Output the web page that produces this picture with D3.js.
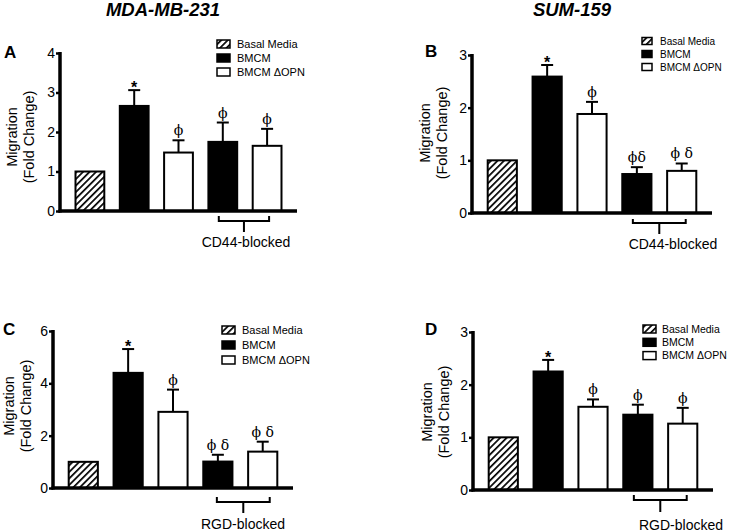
<!DOCTYPE html>
<html><head><meta charset="utf-8">
<script src="https://cdn.jsdelivr.net/npm/d3@7"></script>
<style>
html,body{margin:0;padding:0;background:#fff;}
svg{display:block;}
text{font-family:"Liberation Sans",Arial,sans-serif;fill:#000;}
</style></head>
<body>
<svg id="chart" width="731" height="532"></svg>
<script>
// ---------------- DATA ----------------
const categories = ["Basal Media", "BMCM", "BMCM ΔOPN", "BMCM (blocked)", "BMCM ΔOPN (blocked)"];
const barKinds = ["basal", "bmcm", "dopn", "bmcm", "dopn"];
const legendLabels = ["Basal Media", "BMCM", "BMCM ΔOPN"];
const legendKinds = ["basal", "bmcm", "dopn"];
const cellLines = ["MDA-MB-231", "SUM-159"];
const panelLetters = ["A", "B", "C", "D"];
const blockLabels = ["CD44-blocked", "CD44-blocked", "RGD-blocked", "RGD-blocked"];

const meansA = [1.00, 2.66, 1.48, 1.75, 1.65];
const errA   = [0, 0.40, 0.31, 0.49, 0.43];
const marksA = ["", "*", "ϕ", "ϕ", "ϕ"];
const ticksA = [0, 1, 2, 3, 4];

const meansB = [1.00, 2.59, 1.88, 0.74, 0.80];
const errB   = [0, 0.22, 0.23, 0.13, 0.14];
const marksB = ["", "*", "ϕ", "ϕδ", "ϕ δ"];
const ticksB = [0, 1, 2, 3];

const meansC = [1.00, 4.40, 2.91, 1.01, 1.39];
const errC   = [0, 0.91, 0.85, 0.26, 0.38];
const marksC = ["", "*", "ϕ", "ϕ δ", "ϕ δ"];
const ticksC = [0, 2, 4, 6];

const meansD = [1.00, 2.25, 1.58, 1.43, 1.26];
const errD   = [0, 0.22, 0.14, 0.19, 0.30];
const marksD = ["", "*", "ϕ", "ϕ", "ϕ"];
const ticksD = [0, 1, 2, 3];

const yLabelLines = ["Migration", "(Fold Change)"];

// ---------------- LAYOUT ----------------
const panels = [
  {means: meansA, err: errA, marks: marksA, ticks: ticksA, block: blockLabels[0], letter: panelLetters[0],
   x0: 60, x1: 297, yTop: 53, yBot: 211,
   letterPos: [4, 58], ylab: [12, 137], legend: {x: 217, y: 44, dy: 14, w: 13, h: 8, tx: 237, fs: 11},
   br: {dl: -4, dr: 2, y1: 5, y2: 10, y3: 21, lx: 246, ly: 36}},
  {means: meansB, err: errB, marks: marksB, ticks: ticksB, block: blockLabels[1], letter: panelLetters[1],
   x0: 472, x1: 712, yTop: 55, yBot: 213,
   letterPos: [425, 57], ylab: [425, 133], legend: {x: 642, y: 41, dy: 13, w: 10, h: 7, tx: 660, fs: 10},
   br: {dl: -4, dr: 4, y1: 6, y2: 10, y3: 21, lx: 673, ly: 36}},
  {means: meansC, err: errC, marks: marksC, ticks: ticksC, block: blockLabels[2], letter: panelLetters[2],
   x0: 53, x1: 293, yTop: 331, yBot: 488,
   letterPos: [3, 335], ylab: [9, 406], legend: {x: 222, y: 330, dy: 15, w: 13, h: 8, tx: 242, fs: 11},
   br: {dl: -1, dr: 7, y1: 9, y2: 14, y3: 25, lx: 243, ly: 41}},
  {means: meansD, err: errD, marks: marksD, ticks: ticksD, block: blockLabels[3], letter: panelLetters[3],
   x0: 473, x1: 713, yTop: 332, yBot: 490,
   letterPos: [425, 335], ylab: [427, 412], legend: {x: 643, y: 329, dy: 13.3, w: 13, h: 8, tx: 662, fs: 10.5},
   br: {dl: -4, dr: 4, y1: 5, y2: 10, y3: 22, lx: 681, ly: 40}}
];

const svg = d3.select("#chart");
const defs = svg.append("defs");
const pat = defs.append("pattern").attr("id", "hatch")
  .attr("patternUnits", "userSpaceOnUse").attr("width", 4.6).attr("height", 4.6)
  .attr("patternTransform", "rotate(45)");
pat.append("rect").attr("width", 4.6).attr("height", 4.6).attr("fill", "#fff");
pat.append("rect").attr("x", 0).attr("width", 1.7).attr("height", 4.6).attr("fill", "#000");

const fillFor = k => k === "basal" ? "url(#hatch)" : (k === "bmcm" ? "#000" : "#fff");

// titles
svg.append("text").attr("x", 163).attr("y", 16).attr("text-anchor", "middle")
  .attr("font-size", 18.5).attr("font-weight", "bold").attr("font-style", "italic")
  .attr("fill", "#222").text(cellLines[0]);
svg.append("text").attr("x", 572).attr("y", 16).attr("text-anchor", "middle")
  .attr("font-size", 18.5).attr("font-weight", "bold").attr("font-style", "italic")
  .attr("fill", "#222").text(cellLines[1]);

panels.forEach(p => {
  const g = svg.append("g");
  const x = d3.scaleBand().domain(categories).range([p.x0, p.x1]).paddingInner(0.35).paddingOuter(0.35);
  const yMax = p.ticks[p.ticks.length - 1];
  const y = d3.scaleLinear().domain([0, yMax]).range([p.yBot, p.yTop]);
  const bw = x.bandwidth();

  // bars
  g.selectAll("rect.bar").data(categories).join("rect")
    .attr("class", "bar")
    .attr("x", d => x(d)).attr("width", bw)
    .attr("y", (d, i) => y(p.means[i]))
    .attr("height", (d, i) => y(0) - y(p.means[i]))
    .attr("fill", (d, i) => fillFor(barKinds[i]))
    .attr("stroke", "#000").attr("stroke-width", 2);

  // error bars
  categories.forEach((c, i) => {
    if (!p.err[i]) return;
    const cx = x(c) + bw / 2;
    const top = y(p.means[i] + p.err[i]);
    g.append("line").attr("x1", cx).attr("x2", cx).attr("y1", y(p.means[i])).attr("y2", top)
      .attr("stroke", "#000").attr("stroke-width", 2);
    g.append("line").attr("x1", cx - 6).attr("x2", cx + 6).attr("y1", top).attr("y2", top)
      .attr("stroke", "#000").attr("stroke-width", 2);
    const m = p.marks[i];
    if (m === "*") {
      g.append("text").attr("x", cx).attr("y", top + 3).attr("text-anchor", "middle")
        .attr("font-size", 16).attr("font-weight", "bold").text(m);
    } else if (m) {
      g.append("text").attr("x", cx).attr("y", top - 5).attr("text-anchor", "middle")
        .attr("font-size", 14).style("font-family", "'DejaVu Serif','Liberation Serif',serif")
        .style("white-space", "pre").text(m);
    }
  });

  // y axis
  const ax = d3.axisLeft(y).tickValues(p.ticks).tickFormat(d3.format("d")).tickSize(4).tickPadding(1);
  const axg = g.append("g").attr("transform", `translate(${p.x0},0)`).call(ax);
  axg.select(".domain").remove();
  axg.selectAll(".tick line").attr("stroke-width", 2.5);
  axg.selectAll(".tick text").attr("font-size", 14).attr("font-family", "'Liberation Sans',Arial,sans-serif").attr("fill", "#000");
  g.append("line").attr("x1", p.x0).attr("x2", p.x0).attr("y1", p.yTop - 1).attr("y2", p.yBot + 1.5)
    .attr("stroke", "#000").attr("stroke-width", 3.5);
  // x baseline
  g.append("line").attr("x1", p.x0 - 1.5).attr("x2", p.x1).attr("y1", p.yBot).attr("y2", p.yBot)
    .attr("stroke", "#000").attr("stroke-width", 3.5);

  // y label
  const yl = g.append("text").attr("transform", `translate(${p.ylab[0]},${p.ylab[1]}) rotate(-90)`)
    .attr("text-anchor", "middle").attr("font-size", 14.5);
  yLabelLines.forEach((t, k) => {
    yl.append("tspan").attr("x", 0).attr("dy", k === 0 ? 5 : 16.5).text(t);
  });

  // panel letter
  g.append("text").attr("x", p.letterPos[0]).attr("y", p.letterPos[1])
    .attr("font-size", 17).attr("font-weight", "bold").attr("fill", "#222").text(p.letter);

  // legend
  legendLabels.forEach((lab, k) => {
    const ly = p.legend.y + k * p.legend.dy;
    g.append("rect").attr("x", p.legend.x).attr("y", ly - p.legend.h / 2)
      .attr("width", p.legend.w).attr("height", p.legend.h)
      .attr("fill", fillFor(legendKinds[k])).attr("stroke", "#000").attr("stroke-width", 1.5);
    g.append("text").attr("x", p.legend.tx).attr("y", ly + p.legend.fs * 0.36)
      .attr("font-size", p.legend.fs).text(lab);
  });

  // bracket
  const bx1 = x(categories[3]) + bw / 2 + p.br.dl;
  const bx2 = x(categories[4]) + bw / 2 + p.br.dr;
  const b0 = p.yBot;
  g.append("path")
    .attr("d", `M${bx1},${b0 + p.br.y1}V${b0 + p.br.y2}H${bx2}V${b0 + p.br.y1}M${(bx1 + bx2) / 2},${b0 + p.br.y2}V${b0 + p.br.y3}`)
    .attr("fill", "none").attr("stroke", "#000").attr("stroke-width", 2);
  g.append("text").attr("x", p.br.lx).attr("y", b0 + p.br.ly).attr("text-anchor", "middle")
    .attr("font-size", 14).text(p.block);
});
</script>
</body></html>
